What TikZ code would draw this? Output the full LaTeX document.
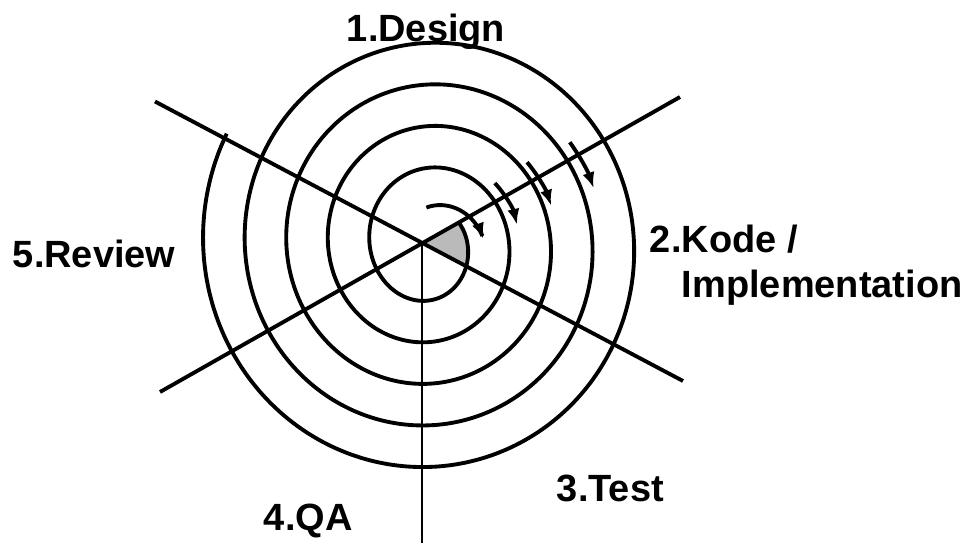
\documentclass[tikz,border=0pt]{standalone}
\usepackage{fontspec}
\setmainfont{Liberation Sans}
\usepackage{tikz}
\usetikzlibrary{arrows.meta,calc}

\begin{document}
\begin{tikzpicture}[
    x=0.2mm, y=0.2mm,
    >={Latex[length=9pt,width=7pt]},
    line width=2.2pt,
    every node/.style={font=\bfseries\fontsize{21.6}{26}\selectfont, inner sep=0pt},
    phase/.style={anchor=base west}
  ]
    \useasboundingbox (0,0) rectangle (965,543);
    \coordinate (O) at (422,300);
    \coordinate (S) at (429,298.5);
    \coordinate (NW) at (155,441.5);
    \coordinate (SE) at (683,162);
    \coordinate (SW) at (160,151);
    \coordinate (NE) at (680,446);
    \coordinate (Bot) at (422,0);
    % shaded start of the spiral
    \fill[black!27] (O) -- plot[domain=30:-27,samples=20]
      ({429+(38.6-0.1156*\x)*cos(\x)},{298.5+(45.6-0.1156*\x)*sin(\x)}) -- cycle;
    % spiral
    \draw plot[domain=30:-1648,samples=420,smooth]
      ({429+(38.6-0.1156*\x)*cos(\x)},{298.5+(45.6-0.1156*\x)*sin(\x)});
    % axes
    \draw (NW) -- (SE);
    \draw (SW) -- (NE);
    \draw[line width=1.7pt] (O) -- (Bot);
    % arrows
    \draw[->] plot[domain=94:6,samples=30]
      ({429+(37+0.2*(94-\x))*cos(\x)},{298.5+(37+0.2*(94-\x))*sin(\x)});
    \draw[->] ($(S)+(43:90)$) arc[start angle=43,end angle=13,radius=91];
    \draw[->] ($(S)+(40:128)$) arc[start angle=40,end angle=18,radius=130];
    \draw[->] ($(S)+(36:174)$) arc[start angle=36,end angle=19,radius=175];
    % labels
    \node[phase] (design) at (345,501) {1.Design};
    \node[phase] (kode) at (648,290) {2.Kode /};
    \node[phase] (impl) at (680,246) {Implementation};
    \node[phase] (test) at (555,42) {3.Test};
    \node[phase] (qa) at (262,13) {4.QA};
    \node[phase] (review) at (11,275) {5.Review};
\end{tikzpicture}
\end{document}
